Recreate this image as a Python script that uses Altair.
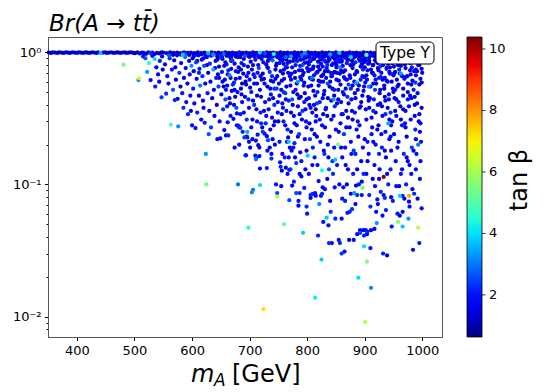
import altair as alt
import pandas as pd

# ---------------- tick labels ----------------
x_ticks = [400, 500, 600, 700, 800, 900, 1000]
y_ticks = [0.008, 0.009, 0.01, 0.02, 0.03, 0.04, 0.05, 0.06, 0.07, 0.08, 0.09,
           0.1, 0.2, 0.3, 0.4, 0.5, 0.6, 0.7, 0.8, 0.9, 1]
cbar_ticks = [2, 4, 6, 8, 10]

# ---------------- data (m_A, Br, tan beta) ----------------
band_line = [(351,0.995,1.1),(355,0.99,1.3),(358,1.0,1.0),(362,0.995,1.4),(366,0.99,1.2),(369,1.0,1.1),(373,0.995,1.3),(377,0.99,1.0),(381,1.0,1.2),(384,0.995,1.4),(388,0.99,1.1),(392,1.0,1.3),(396,0.995,1.0),(400,0.99,1.2),(403,1.0,1.4),(407,0.995,1.1),(411,0.99,1.3),(415,1.0,1.0),(418,0.995,1.2),(422,0.99,1.4),(426,1.0,1.1),(430,0.995,1.3),(434,0.99,1.0),(437,1.0,1.2),(441,0.99,3.6),(445,0.995,1.1),(449,1.0,1.3),(452,0.99,1.0),(456,0.995,1.2),(460,1.0,1.4),(464,0.99,1.1),(468,0.995,1.3),(471,1.0,1.0),(475,0.99,1.2),(479,0.995,1.4),(483,1.0,1.1),(486,0.99,1.3),(490,0.995,1.0),(494,1.0,1.2),(498,0.99,1.4),(501,0.985,1.1),(505,1.0,1.3),(509,0.98,1.0),(513,0.995,1.2),(516,0.99,1.4),(520,0.975,1.1),(524,1.0,1.3),(528,0.985,2.4),(531,0.995,1.2),(535,0.97,1.4),(539,0.99,1.1),(543,0.98,1.3),(547,1.0,1.0)]

band_a = [(550,.995,1.1),(556,.985,1.3),(562,1.0,1.0),(568,.99,1.4),(574,.995,1.2),(580,.985,1.1),(586,1.0,1.3),(592,.99,1.0),(598,.995,1.5),(604,.985,1.2),(610,1.0,1.1),(616,.99,1.3),(622,.995,1.0),(628,.985,3.6),(634,1.0,1.2),(640,.99,1.4),(646,.995,1.1),(652,.985,1.3),(658,1.0,1.0),(664,.99,1.2),(670,.995,1.4),(676,.985,1.1),(682,1.0,1.6),(688,.99,1.2),(694,.995,1.0),(700,.985,1.3),(706,1.0,1.1),(712,.99,1.4),(718,.995,3.9),(724,.985,1.2),(730,1.0,1.0),(736,.99,1.3),(742,.995,1.1),(748,.985,1.4),(754,1.0,1.2),(760,.99,1.0),(766,.995,1.7),(772,.985,1.1),(778,1.0,1.3),(784,.99,1.2),(790,.995,1.0),(796,.985,3.2),(802,1.0,1.1),(808,.99,1.3),(814,.995,1.4),(820,.985,1.0),(826,1.0,1.2),(832,.99,1.5),(838,.995,1.1),(844,.985,1.3),(850,1.0,1.0),(856,.99,3.7),(862,.995,1.2),(868,.985,1.1),(874,1.0,1.4),(880,.99,1.2),(886,.995,1.0),(892,.985,1.3),(898,1.0,1.1),(904,.99,1.8),(910,.995,1.2),(916,.985,1.0),(922,1.0,1.3),(928,.99,1.1),(934,.995,4.1),(940,.985,1.2),(946,1.0,1.4),(952,.99,1.0),(958,.995,1.2),(964,.985,1.6),(970,1.0,1.1),(976,.99,1.3),(982,.995,1.0),(988,.985,1.2),(994,1.0,1.4),(1000,.99,1.1)]

band_b = [(560,.965,1.2),(567,.955,1.0),(574,.97,1.4),(581,.96,1.1),(588,.965,2.6),(595,.955,1.2),(602,.97,1.3),(609,.96,1.0),(616,.965,1.4),(623,.955,1.1),(630,.97,1.0),(637,.96,3.3),(644,.965,1.2),(651,.955,1.1),(658,.97,1.3),(665,.96,1.0),(672,.965,1.5),(679,.955,1.1),(686,.97,1.0),(693,.96,1.3),(700,.965,1.1),(707,.955,1.8),(714,.97,1.2),(721,.96,1.0),(728,.965,1.4),(735,.955,1.1),(742,.97,4.4),(749,.96,1.2),(756,.965,1.3),(763,.955,1.0),(770,.97,1.4),(777,.96,1.1),(784,.965,1.0),(791,.955,2.7),(798,.97,1.2),(805,.96,1.1),(812,.965,1.3),(819,.955,1.0),(826,.97,1.5),(833,.96,1.1),(840,.965,3.5),(847,.955,1.0),(854,.97,1.3),(861,.96,1.1),(868,.965,1.6),(875,.955,1.2),(882,.97,1.0),(889,.96,1.4),(896,.965,1.1),(903,.955,5.2),(910,.97,1.1),(917,.96,1.3),(924,.965,1.0),(931,.955,1.7),(938,.97,1.2),(945,.96,1.0),(952,.965,1.4),(959,.955,1.1),(966,.97,3.0),(973,.96,1.1),(980,.965,1.3),(987,.955,1.0),(994,.97,1.2)]

band_c = [(644,.93,1.2),(652,.92,1.4),(660,.94,1.0),(668,.925,1.5),(676,.93,1.2),(684,.92,1.1),(692,.94,2.6),(700,.925,1.2),(708,.93,1.0),(716,.92,1.4),(724,.94,1.1),(732,.925,1.3),(740,.93,1.7),(748,.92,1.2),(756,.94,1.0),(764,.925,1.4),(772,.93,3.4),(780,.92,1.1),(788,.94,1.3),(796,.925,1.0),(804,.93,1.5),(812,.92,1.2),(820,.94,1.3),(828,.925,1.0),(836,.93,1.8),(844,.92,1.2),(852,.94,1.1),(860,.925,1.4),(868,.93,1.0),(876,.92,4.0),(884,.94,1.2),(892,.925,1.3),(900,.93,1.1),(908,.92,1.6),(916,.94,1.2),(924,.925,1.0),(932,.93,1.4),(940,.92,1.2),(948,.94,2.9),(956,.925,1.1),(964,.93,1.3),(972,.92,1.0),(980,.94,1.4),(988,.925,1.2),(996,.93,1.3)]

band_d = [(752,.90,1.1),(758,.96,1.3),(764,.88,1.0),(770,.93,1.2),(776,.86,1.2),(782,.91,1.0),(788,.96,1.4),(794,.89,1.1),(800,.94,1.3),(806,.86,1.0),(812,.91,1.2),(818,.97,1.3),(824,.88,1.1),(830,.93,1.0),(836,.85,1.3),(842,.96,1.1),(848,.89,1.4),(854,.94,1.0),(860,.87,1.2),(866,.91,1.1),(872,.96,1.3),(878,.86,1.0),(884,.93,1.4),(890,.89,1.1),(896,.95,1.2),(902,.87,1.0),(908,.92,1.3),(914,.96,1.1),(920,.85,1.2),(926,.90,1.0),(932,.95,1.4),(938,.88,1.1),(944,.93,1.3),(950,.97,1.0),(956,.87,1.2),(962,.92,1.1),(968,.96,1.4),(974,.89,1.0),(980,.94,1.3),(986,.86,1.1),(992,.91,1.2),(998,.88,1.0)]

s_500_550 = [(481,0.806,5.3),(508,0.635,6.3),(507,0.617,3.0),(522,0.71,3.4),(525,0.83,4.6),(535,0.89,4.0),(528,0.617,1.8),(515,0.93,2.0),(519,0.90,2.6),(531,0.94,1.6),(538,0.77,1.5),(541,0.68,1.9),(544,0.86,2.2),(547,0.456,2.4),(548,0.93,1.4),(536,0.55,2.1),(543,0.60,1.7),(549,0.74,1.3)]

s_550_600 = [(555,0.486,2.3),(553,0.81,1.5),(557,0.66,2.0),(559,0.58,1.4),(561,0.90,2.2),(563,0.283,5.0),(565,0.74,1.8),(567,0.52,2.6),(569,0.87,1.3),(570,0.435,2.1),(572,0.62,1.6),(574,0.95,1.9),(575,0.445,1.5),(576,0.275,3.3),(578,0.70,2.4),(580,0.55,1.2),(581,0.83,1.7),(583,0.49,2.0),(585,0.38,2.3),(586,0.64,1.4),(588,0.92,2.9),(589,0.76,1.6),(590,0.42,1.9),(592,0.58,1.3),(593,0.34,2.2),(595,0.86,1.5),(596,0.68,2.0),(597,0.47,1.7),(599,0.79,3.2),(600,0.28,1.8),(598,0.36,1.5),(584,0.96,3.8),(560,0.95,2.7),(571,0.77,1.4)]

s_600_650 = [(601,0.90,1.6),(602,0.53,2.1),(603,0.72,1.4),(604,0.41,1.9),(606,0.267,1.7),(607,0.84,2.4),(608,0.63,1.5),(609,0.35,2.2),(611,0.95,1.8),(612,0.47,1.3),(613,0.75,2.0),(614,0.56,3.0),(616,0.31,1.6),(617,0.88,1.4),(618,0.66,2.3),(619,0.43,1.8),(620,0.38,1.5),(621,0.79,2.6),(622,0.293,2.0),(623,0.58,1.7),(624,0.17,3.3),(625,0.10,5.3),(626,0.92,1.5),(627,0.49,2.1),(628,0.70,1.3),(630,0.36,1.9),(631,0.82,2.2),(632,0.60,1.6),(633,0.27,2.4),(635,0.45,1.4),(636,0.96,2.0),(637,0.74,3.5),(638,0.52,1.8),(639,0.33,1.5),(641,0.86,1.7),(642,0.64,2.1),(643,0.40,1.3),(644,0.22,2.0),(646,0.55,2.5),(647,0.78,1.4),(648,0.30,1.9),(649,0.223,1.6),(650,0.91,2.2),(645,0.68,1.2),(629,0.24,2.7)]

s_650_700 = [(651,0.48,1.5),(652,0.71,2.0),(653,0.89,1.3),(654,0.37,2.3),(656,0.258,1.8),(657,0.62,1.6),(658,0.44,2.6),(659,0.235,1.4),(660,0.81,2.1),(661,0.56,1.7),(662,0.295,1.9),(663,0.235,2.2),(664,0.94,1.5),(665,0.67,3.1),(666,0.41,1.3),(667,0.33,2.0),(668,0.75,1.8),(669,0.51,1.6),(670,0.87,2.4),(672,0.314,1.5),(673,0.59,2.2),(674,0.19,1.7),(675,0.46,1.4),(676,0.72,2.0),(677,0.38,2.6),(678,0.345,1.9),(678,0.28,1.5),(679,0.92,1.3),(680,0.10,3.0),(681,0.277,2.1),(682,0.20,1.8),(682,0.27,1.4),(683,0.64,1.7),(684,0.268,2.3),(685,0.53,1.5),(686,0.83,2.0),(687,0.42,1.6),(688,0.25,2.2),(689,0.69,1.3),(690,0.35,1.9),(691,0.227,2.4),(692,0.97,1.6),(693,0.166,1.8),(694,0.166,2.1),(694,0.57,1.4),(695,0.23,1.7),(696,0.25,3.5),(696,0.227,2.0),(697,0.78,1.5),(698,0.047,4.4),(698,0.44,2.2),(699,0.21,1.6),(700,0.62,1.9),(655,0.97,2.8),(671,0.98,1.9)]

s_700_750 = [(701,0.19,1.7),(702,0.85,1.4),(703,0.50,2.0),(704,0.087,3.2),(705,0.31,1.5),(706,0.091,3.0),(707,0.68,1.8),(708,0.40,2.3),(709,0.93,1.6),(710,0.165,1.9),(711,0.215,1.4),(711,0.155,3.0),(712,0.16,2.2),(713,0.58,1.7),(714,0.238,2.0),(715,0.198,1.5),(716,0.76,2.5),(717,0.164,1.8),(718,0.099,4.0),(718,0.132,1.6),(719,0.35,2.1),(720,0.46,1.3),(721,0.89,1.9),(722,0.27,1.6),(723,0.25,2.4),(724,0.0114,7.2),(725,0.63,1.4),(726,0.242,2.0),(727,0.42,1.7),(728,0.29,2.2),(729,0.81,1.5),(730,0.232,1.8),(730,0.133,2.1),(731,0.55,1.3),(732,0.216,2.6),(733,0.37,1.9),(734,0.96,1.6),(735,0.71,2.3),(736,0.26,1.4),(737,0.48,2.0),(738,0.17,1.7),(738,0.157,2.3),(739,0.32,1.5),(740,0.87,2.8),(741,0.60,1.8),(742,0.28,1.6),(743,0.40,2.2),(744,0.20,1.9),(745,0.74,1.4),(746,0.10,2.0),(747,0.53,2.4),(748,0.086,2.5),(748,0.081,6.0),(749,0.35,1.7),(750,0.92,1.5),(727,0.98,2.6),(742,0.97,1.8),(713,0.30,1.9),(735,0.19,1.3)]

s_750_800 = [(751,0.58,1.6),(752,0.83,2.0),(753,0.147,1.7),(754,0.136,2.2),(755,0.097,1.8),(756,0.127,1.5),(757,0.41,1.9),(758,0.69,1.4),(759,0.30,2.1),(760,0.05,5.2),(761,0.90,1.7),(762,0.49,2.4),(763,0.134,1.6),(764,0.36,1.9),(765,0.77,1.3),(766,0.26,2.2),(767,0.227,1.8),(768,0.16,2.0),(768,0.21,3.8),(769,0.129,1.7),(769,0.076,2.6),(770,0.19,1.5),(771,0.13,2.3),(772,0.62,1.6),(773,0.18,1.9),(774,0.44,2.7),(775,0.94,1.4),(776,0.19,2.0),(777,0.33,1.7),(778,0.205,2.2),(779,0.71,1.5),(780,0.52,1.9),(781,0.086,2.5),(782,0.28,1.6),(783,0.86,2.1),(784,0.39,1.4),(785,0.075,2.0),(785,0.069,1.8),(786,0.24,2.4),(787,0.086,2.2),(788,0.65,1.7),(789,0.46,1.3),(790,0.15,2.0),(791,0.31,1.8),(792,0.80,2.6),(793,0.043,3.8),(794,0.56,1.5),(795,0.094,2.1),(796,0.22,1.9),(797,0.37,1.6),(798,0.96,2.3),(799,0.068,2.3),(800,0.06,2.0),(799,0.27,1.7),(790,0.115,1.5),(777,0.105,2.1),(763,0.92,2.9),(756,0.34,1.5),(784,0.60,3.4),(795,0.42,2.0),(772,0.25,1.4),(759,0.50,2.3),(766,0.12,1.9),(752,0.21,2.0),(788,0.175,1.6),(781,0.145,2.4),(797,0.13,1.8),(774,0.098,1.7),(761,0.16,2.2)]

s_800_850 = [(801,0.165,3.8),(802,0.72,1.6),(803,0.45,2.0),(804,0.29,1.4),(805,0.88,2.2),(806,0.083,2.0),(806,0.079,1.7),(807,0.56,1.5),(808,0.084,2.3),(809,0.35,1.8),(810,0.19,2.1),(811,0.085,1.6),(812,0.67,1.9),(813,0.24,1.3),(814,0.086,2.0),(814,0.0139,4.2),(815,0.082,1.8),(816,0.93,1.5),(817,0.41,2.4),(818,0.14,1.7),(819,0.041,2.2),(820,0.61,1.4),(821,0.071,3.2),(822,0.31,2.0),(823,0.21,1.6),(824,0.082,1.9),(825,0.027,3.8),(826,0.085,2.1),(826,0.128,4.5),(827,0.78,1.7),(828,0.052,2.0),(829,0.48,1.5),(830,0.17,2.3),(831,0.27,1.8),(832,0.85,1.4),(833,0.38,2.0),(834,0.056,3.8),(835,0.11,1.6),(836,0.58,2.5),(837,0.049,1.9),(838,0.036,2.2),(839,0.23,1.5),(840,0.075,1.8),(841,0.70,2.1),(842,0.43,1.3),(843,0.036,1.9),(844,0.15,2.4),(845,0.96,1.7),(846,0.33,1.5),(847,0.52,2.0),(848,0.095,1.8),(849,0.055,2.2),(849,0.154,3.8),(850,0.26,1.6),(803,0.12,1.9),(808,0.64,3.0),(812,0.40,1.6),(818,0.50,2.2),(823,0.90,2.0),(828,0.34,1.4),(833,0.64,1.8),(838,0.13,2.6),(843,0.80,1.5),(847,0.19,1.9),(805,0.22,2.4),(815,0.30,1.8),(820,0.106,1.5),(831,0.092,2.0),(836,0.20,1.7),(841,0.062,2.3),(846,0.44,3.3),(810,0.75,1.9),(825,0.66,1.6),(835,0.80,2.2),(848,0.71,1.4),(813,0.16,2.1),(829,0.18,1.5),(806,0.38,1.7)]

s_850_900 = [(851,0.62,1.8),(852,0.41,1.5),(853,0.87,2.1),(854,0.20,5.5),(855,0.038,2.0),(856,0.10,1.7),(857,0.036,2.2),(858,0.29,1.6),(859,0.73,1.4),(860,0.055,1.9),(860,0.030,2.3),(861,0.16,1.8),(862,0.50,2.0),(863,0.095,1.5),(864,0.24,2.4),(865,0.031,1.7),(866,0.075,2.1),(867,0.93,1.6),(868,0.36,1.9),(869,0.10,1.4),(870,0.061,2.0),(871,0.13,1.8),(872,0.57,2.5),(873,0.038,1.6),(874,0.062,2.2),(875,0.80,1.5),(876,0.21,1.9),(877,0.44,1.7),(878,0.065,2.3),(879,0.31,1.4),(880,0.12,2.0),(881,0.038,1.8),(882,0.086,3.3),(883,0.68,1.6),(884,0.17,2.1),(885,0.098,1.5),(886,0.26,1.9),(887,0.083,2.2),(887,0.042,1.7),(888,0.52,1.4),(889,0.0197,4.0),(890,0.10,2.0),(891,0.89,1.6),(892,0.045,1.9),(892,0.043,2.4),(893,0.39,1.5),(894,0.15,1.8),(895,0.083,2.0),(895,0.105,1.6),(896,0.094,5.3),(897,0.74,2.2),(898,0.045,1.7),(899,0.041,2.1),(899,0.034,4.0),(900,0.22,1.5),(852,0.14,2.0),(857,0.77,3.1),(862,0.34,1.7),(866,0.19,1.5),(870,0.46,2.3),(874,0.27,1.6),(878,0.95,1.9),(883,0.35,2.0),(886,0.59,3.6),(891,0.28,1.7),(896,0.47,1.5),(898,0.12,2.2),(854,0.52,1.6),(864,0.65,1.9),(876,0.085,1.7),(881,0.18,2.4),(889,0.23,1.6),(855,0.25,1.8),(869,0.83,2.0),(879,0.56,1.5),(893,0.62,2.1),(899,0.84,1.6),(861,0.078,2.0),(884,0.071,1.8)]

s_900_950 = [(901,0.0091,6.2),(901,0.59,1.7),(902,0.045,2.0),(903,0.31,1.5),(904,0.026,5.5),(904,0.042,1.8),(905,0.044,2.2),(906,0.82,1.6),(907,0.17,1.9),(908,0.083,2.1),(909,0.45,1.4),(910,0.033,1.8),(910,0.068,2.3),(911,0.045,1.6),(911,0.0165,3.2),(912,0.24,2.0),(913,0.70,1.5),(914,0.11,1.8),(915,0.36,2.2),(916,0.94,1.7),(917,0.14,1.5),(918,0.52,2.4),(919,0.20,1.9),(920,0.062,1.6),(921,0.051,3.3),(922,0.077,2.0),(923,0.071,1.7),(924,0.28,1.5),(925,0.64,2.1),(926,0.13,1.8),(927,0.41,1.6),(928,0.088,2.2),(929,0.86,1.4),(930,0.19,2.0),(931,0.33,1.7),(932,0.030,2.1),(933,0.114,10.3),(933,0.083,1.9),(934,0.56,1.5),(935,0.079,2.3),(936,0.25,1.8),(937,0.16,1.6),(938,0.75,2.0),(939,0.029,1.8),(940,0.38,1.5),(941,0.10,2.2),(942,0.48,1.7),(943,0.22,1.9),(944,0.91,1.5),(945,0.13,2.1),(946,0.080,1.8),(947,0.048,2.0),(948,0.30,1.6),(949,0.075,2.2),(950,0.67,1.9),(903,0.12,1.6),(907,0.55,3.2),(913,0.27,1.8),(918,0.097,2.0),(923,0.40,1.5),(927,0.78,2.3),(931,0.058,1.9),(936,0.43,1.6),(941,0.29,3.5),(946,0.18,1.7),(949,0.53,1.5),(905,0.21,2.0),(915,0.80,1.6),(925,0.17,2.2),(935,0.64,1.8),(945,0.35,2.4),(908,0.38,1.5),(919,0.62,1.9),(929,0.24,1.7),(939,0.12,1.6),(909,0.96,2.0),(921,0.89,1.8),(943,0.71,1.6),(917,0.046,1.9),(937,0.064,2.1)]

s_950_1000 = [(951,0.24,1.8),(952,0.45,1.5),(953,0.87,2.1),(954,0.15,1.7),(955,0.33,1.9),(956,0.62,1.4),(957,0.060,2.0),(958,0.052,5.5),(959,0.21,1.6),(960,0.74,2.2),(961,0.058,1.8),(961,0.082,3.9),(962,0.39,1.5),(963,0.12,2.0),(964,0.95,1.7),(965,0.28,1.9),(966,0.062,1.6),(966,0.048,3.8),(966,0.082,2.1),(967,0.53,1.5),(968,0.17,2.3),(969,0.078,1.7),(970,0.81,1.9),(971,0.36,1.6),(972,0.10,2.2),(973,0.23,1.5),(974,0.66,1.8),(975,0.44,2.0),(976,0.055,3.3),(977,0.082,7.8),(977,0.074,1.9),(978,0.14,1.6),(979,0.90,2.1),(980,0.31,1.7),(981,0.57,1.5),(982,0.19,2.4),(983,0.092,1.8),(984,0.032,2.0),(985,0.18,1.6),(986,0.72,1.9),(987,0.40,1.5),(988,0.26,2.2),(989,0.13,1.7),(990,0.17,2.0),(991,0.84,1.6),(992,0.49,1.8),(993,0.047,6.3),(994,0.30,1.5),(995,0.036,2.1),(996,0.11,1.9),(997,0.63,1.6),(998,0.21,2.0),(999,0.38,1.7),(1000,0.93,1.5),(955,0.097,1.9),(963,0.69,3.4),(970,0.29,1.8),(979,0.47,1.6),(988,0.59,2.3),(996,0.25,1.7),(953,0.52,2.0),(975,0.15,1.5),(986,0.085,2.2),(999,0.066,1.8),(958,0.80,1.6),(982,0.77,2.0),(993,0.20,3.0),(971,0.96,1.9)]

upper_600_700 = [(603,0.93,1.5),(609,0.86,1.3),(614,0.97,1.8),(620,0.90,1.6),(626,0.80,1.4),(633,0.94,2.0),(640,0.76,1.5),(644,0.88,1.3),(652,0.95,1.7),(658,0.84,1.5),(663,0.73,2.2),(667,0.91,1.4),(674,0.82,1.6),(681,0.95,1.9),(685,0.74,1.3),(690,0.89,1.5),(695,0.66,2.0),(699,0.93,1.6),(612,0.70,2.1),(647,0.64,1.7)]

upper_700_800 = [(703,0.95,1.6),(706,0.80,1.4),(710,0.88,2.0),(714,0.70,1.5),(717,0.92,1.7),(721,0.62,1.3),(724,0.84,1.9),(728,0.94,1.5),(732,0.76,1.8),(736,0.89,1.4),(739,0.66,2.2),(743,0.95,1.6),(747,0.82,1.3),(751,0.93,1.9),(754,0.72,1.5),(757,0.87,1.7),(760,0.63,1.4),(763,0.78,2.1),(766,0.94,1.6),(770,0.85,1.3),(773,0.69,1.8),(777,0.91,1.5),(780,0.80,2.0),(783,0.95,1.4),(786,0.73,1.7),(789,0.88,1.6),(792,0.67,1.3),(795,0.83,1.9),(798,0.91,1.5),(800,0.76,1.8)]

upper_800_900 = [(802,0.93,1.4),(805,0.64,1.9),(808,0.89,1.6),(811,0.78,1.3),(813,0.95,1.7),(816,0.70,2.0),(819,0.85,1.5),(822,0.74,1.8),(825,0.92,1.4),(828,0.60,1.6),(830,0.87,2.1),(833,0.95,1.5),(836,0.72,1.3),(839,0.88,1.7),(842,0.66,1.9),(845,0.82,1.5),(848,0.93,1.6),(851,0.77,1.4),(854,0.90,2.0),(857,0.69,1.5),(860,0.85,1.7),(863,0.94,1.3),(866,0.73,1.9),(869,0.62,1.6),(872,0.88,1.5),(875,0.95,1.8),(878,0.79,1.4),(881,0.91,1.6),(884,0.84,2.2),(887,0.71,1.5),(890,0.94,1.3),(893,0.78,1.7),(896,0.88,1.5),(899,0.65,1.9)]

upper_900_1000 = [(902,0.91,1.5),(905,0.73,1.7),(908,0.86,1.4),(911,0.95,1.8),(914,0.80,1.5),(917,0.67,2.0),(920,0.90,1.6),(923,0.76,1.3),(926,0.93,1.7),(929,0.70,1.5),(932,0.85,1.9),(935,0.94,1.4),(938,0.61,1.6),(941,0.82,1.8),(944,0.77,1.5),(947,0.91,1.3),(950,0.86,1.7),(953,0.71,1.5),(956,0.94,2.0),(959,0.83,1.4),(962,0.89,1.6),(965,0.66,1.8),(968,0.92,1.5),(971,0.76,1.3),(974,0.87,1.7),(977,0.95,1.5),(980,0.68,1.9),(983,0.84,1.4),(986,0.93,1.6),(989,0.74,1.5),(992,0.89,1.8),(995,0.80,1.4),(998,0.95,1.6),(1000,0.70,1.7)]

extra_650_750 = [(653,0.60,1.7),(656,0.79,1.4),(659,0.52,2.0),(662,0.68,1.5),(665,0.45,1.8),(668,0.86,1.3),(671,0.57,2.2),(673,0.40,1.6),(676,0.63,1.4),(679,0.50,1.9),(681,0.77,1.5),(684,0.34,2.1),(687,0.58,1.3),(690,0.80,1.7),(692,0.46,1.5),(695,0.31,2.4),(698,0.70,1.6),(701,0.54,1.4),(703,0.27,1.9),(706,0.43,1.5),(709,0.65,2.0),(712,0.37,1.3),(715,0.80,1.7),(718,0.52,1.5),(720,0.29,2.2),(723,0.69,1.4),(726,0.58,1.8),(729,0.33,1.6),(732,0.86,1.3),(734,0.44,1.9),(737,0.61,1.5),(740,0.22,1.7),(743,0.53,2.3),(746,0.79,1.4),(749,0.42,1.6),(705,0.22,1.8),(717,0.19,1.5),(731,0.18,2.0),(744,0.30,1.4),(748,0.66,1.8)]

extra_750_850 = [(752,0.47,1.5),(754,0.88,1.7),(756,0.61,1.3),(758,0.38,2.0),(760,0.74,1.5),(762,0.28,1.8),(764,0.55,1.4),(766,0.83,1.6),(768,0.43,2.2),(770,0.66,1.5),(772,0.35,1.3),(774,0.77,1.9),(776,0.50,1.6),(778,0.29,1.4),(780,0.87,2.1),(782,0.58,1.5),(784,0.23,1.7),(786,0.45,1.3),(788,0.79,1.8),(790,0.62,1.5),(792,0.36,2.3),(794,0.70,1.4),(796,0.49,1.6),(798,0.30,1.9),(800,0.84,1.5),(802,0.55,1.3),(804,0.40,1.8),(806,0.74,1.6),(808,0.26,2.0),(810,0.62,1.4),(812,0.89,1.7),(814,0.47,1.5),(816,0.33,1.9),(818,0.71,1.3),(820,0.56,1.6),(822,0.42,2.2),(824,0.82,1.5),(826,0.28,1.8),(828,0.68,1.4),(830,0.51,1.6),(832,0.37,1.3),(834,0.76,2.0),(836,0.45,1.5),(838,0.89,1.7),(840,0.60,1.4),(842,0.31,1.9),(844,0.53,1.6),(846,0.70,1.3),(848,0.39,2.1),(850,0.84,1.5),(757,0.17,1.6),(765,0.21,2.0),(779,0.16,1.5),(787,0.12,1.8),(799,0.18,1.4),(809,0.14,1.9),(817,0.23,1.5),(827,0.095,1.7),(837,0.16,1.4),(845,0.12,2.2)]

extra_850_950 = [(852,0.70,1.4),(854,0.44,1.8),(856,0.85,1.5),(858,0.57,1.3),(860,0.34,2.0),(862,0.79,1.6),(864,0.48,1.4),(866,0.63,1.9),(868,0.27,1.5),(870,0.88,1.7),(872,0.41,1.3),(874,0.67,1.6),(876,0.53,2.2),(878,0.36,1.5),(880,0.81,1.4),(882,0.60,1.8),(884,0.45,1.6),(886,0.72,1.3),(888,0.30,1.9),(890,0.56,1.5),(892,0.86,1.7),(894,0.42,1.4),(896,0.66,2.0),(898,0.51,1.5),(900,0.77,1.3),(902,0.37,1.8),(904,0.62,1.6),(906,0.46,1.4),(908,0.83,1.9),(910,0.55,1.5),(912,0.32,1.7),(914,0.70,1.3),(916,0.44,2.1),(918,0.87,1.5),(920,0.58,1.4),(922,0.26,1.8),(924,0.73,1.6),(926,0.49,1.3),(928,0.65,1.9),(930,0.39,1.5),(932,0.80,1.7),(934,0.53,1.4),(936,0.34,2.2),(938,0.90,1.5),(940,0.60,1.3),(942,0.44,1.8),(944,0.69,1.6),(946,0.28,1.4),(948,0.83,1.9),(950,0.50,1.5),(859,0.19,1.7),(867,0.14,1.5),(877,0.17,2.0),(887,0.13,1.4),(897,0.19,1.8),(905,0.15,1.5),(915,0.21,1.7),(925,0.11,1.6),(935,0.18,1.4),(945,0.23,2.0)]

extra_950_1000 = [(951,0.78,1.5),(953,0.36,1.8),(955,0.88,1.4),(957,0.55,1.6),(959,0.42,2.0),(961,0.69,1.5),(963,0.31,1.3),(965,0.84,1.7),(967,0.47,1.5),(969,0.63,1.9),(971,0.27,1.4),(973,0.91,1.6),(975,0.58,1.3),(977,0.39,1.8),(979,0.73,1.5),(981,0.45,1.7),(983,0.86,1.4),(985,0.52,2.1),(987,0.33,1.5),(989,0.67,1.6),(991,0.41,1.3),(993,0.80,1.8),(995,0.57,1.5),(997,0.29,1.7),(999,0.75,1.4),(957,0.19,1.6),(965,0.13,1.9),(973,0.16,1.5),(981,0.12,1.7),(989,0.22,1.4),(997,0.15,1.8),(960,0.097,1.6),(978,0.068,1.9),(992,0.078,1.5),(968,0.28,2.2)]

extra_mid = [(655,0.55,1.4),(661,0.39,1.6),(667,0.64,1.2),(674,0.52,1.8),(680,0.71,1.3),(686,0.48,1.5),(693,0.60,1.2),(699,0.38,1.7),(704,0.74,1.3),(708,0.58,1.5),(713,0.47,1.2),(719,0.66,1.6),(725,0.36,1.4),(731,0.77,1.2),(736,0.53,1.7),(741,0.45,1.3),(745,0.63,1.5),(750,0.30,1.2),(755,0.52,1.6),(759,0.82,1.3),(763,0.44,1.4),(767,0.70,1.2),(771,0.56,1.7),(775,0.40,1.3),(779,0.64,1.5),(783,0.48,1.2),(787,0.34,1.6),(791,0.73,1.3),(795,0.59,1.4),(799,0.44,1.2),(803,0.81,1.5),(807,0.63,1.3),(811,0.51,1.6),(815,0.37,1.2),(819,0.78,1.4),(823,0.60,1.3),(827,0.45,1.7),(831,0.72,1.2),(835,0.33,1.5),(839,0.55,1.3),(843,0.66,1.4),(847,0.47,1.2),(851,0.80,1.6),(855,0.61,1.3),(859,0.42,1.5),(863,0.71,1.2),(867,0.53,1.4),(871,0.32,1.3),(875,0.64,1.6),(879,0.76,1.2),(883,0.49,1.5),(887,0.58,1.3),(891,0.38,1.4),(895,0.81,1.2),(899,0.55,1.6),(903,0.67,1.3),(907,0.43,1.5),(911,0.74,1.2),(915,0.58,1.4),(919,0.35,1.3),(923,0.83,1.6),(927,0.52,1.2),(931,0.62,1.5),(935,0.46,1.3),(939,0.77,1.4),(943,0.31,1.2),(947,0.60,1.6),(951,0.69,1.3),(955,0.44,1.5),(959,0.57,1.2),(963,0.79,1.4),(967,0.37,1.3),(971,0.65,1.6),(975,0.50,1.2),(979,0.83,1.5),(983,0.61,1.3),(987,0.46,1.4),(991,0.72,1.2),(995,0.34,1.6),(999,0.59,1.3)]

groups = [band_line, band_a, band_b, band_c, band_d, s_500_550, s_550_600, s_600_650,
          s_650_700, s_700_750, s_750_800, s_800_850, s_850_900, s_900_950,
          s_950_1000, upper_600_700, upper_700_800, upper_800_900, upper_900_1000,
          extra_650_750, extra_750_850, extra_850_950, extra_950_1000, extra_mid]
rows = [p for g in groups for p in g]
df = pd.DataFrame(rows, columns=["m", "br", "tb"])

# ---------------- jet colormap ----------------
VMIN, VMAX = 0.63, 10.39
def _seg(pts, t):
    for (a, va), (b, vb) in zip(pts, pts[1:]):
        if a <= t <= b:
            return va + (vb - va) * (t - a) / (b - a) if b > a else vb
    return pts[-1][1]
def jet(t):
    r = _seg([(0, 0), (0.35, 0), (0.66, 1), (0.89, 1), (1, 0.5)], t)
    g = _seg([(0, 0), (0.125, 0), (0.375, 1), (0.64, 1), (0.91, 0), (1, 0)], t)
    b = _seg([(0, 0.5), (0.11, 1), (0.34, 1), (0.65, 0), (1, 0)], t)
    return "#%02x%02x%02x" % (round(r * 255), round(g * 255), round(b * 255))
stops = [0, 0.11, 0.125, 0.34, 0.35, 0.375, 0.64, 0.65, 0.66, 0.89, 0.91, 1]
jet_domain = [VMIN + s * (VMAX - VMIN) for s in stops]
jet_range = [jet(s) for s in stops]

FONT = "DejaVu Sans"
W, H = 394, 300

points = alt.Chart(df).mark_circle(size=18, opacity=1).encode(
    x=alt.X("m:Q", scale=alt.Scale(domain=[349.7, 1034.4], nice=False, zero=False),
            axis=alt.Axis(values=x_ticks, format="d", title=None, grid=False, tickSize=3.5,
                          labelFontSize=13, labelFont=FONT, labelColor="black",
                          labelPadding=3.5, tickColor="black", domainColor="#555")),
    y=alt.Y("br:Q", scale=alt.Scale(type="log", domain=[0.0070, 1.306], nice=False),
            axis=alt.Axis(values=y_ticks, title=None, grid=False,
                          labelExpr="datum.value == 1 ? '10⁰' : datum.value == 0.1 ? '10⁻¹' : datum.value == 0.01 ? '10⁻²' : ''",
                          tickSize={"condition": {"test": "indexof([1, 0.1, 0.01], datum.value) >= 0", "value": 3.5}, "value": 2},
                          labelFontSize=13, labelFont=FONT, labelColor="black",
                          labelPadding=3.5, labelOverlap=False, tickColor="black",
                          domainColor="#555")),
    color=alt.Color("tb:Q", scale=alt.Scale(domain=jet_domain, range=jet_range, interpolate="rgb"),
                    legend=alt.Legend(title=None, orient="none", legendX=419, legendY=0,
                                      direction="vertical", gradientLength=300,
                                      gradientThickness=15, values=cbar_ticks,
                                      labelFont=FONT, labelFontSize=13, labelColor="black",
                                      labelOffset=7, gradientStrokeColor="black",
                                      gradientStrokeWidth=0.8, padding=0, labelOverlap=False)),
    order=alt.Order("tb:Q", sort="ascending"),
)

cb_ticks = alt.Chart(pd.DataFrame({"v": cbar_ticks})).mark_rule(color="black", strokeWidth=0.8).encode(
    y=alt.Y("v:Q", scale=alt.Scale(domain=[VMIN, VMAX], nice=False, zero=False), axis=None),
    x=alt.value(434), x2=alt.value(437.5),
)

one = pd.DataFrame({"k": [0]})
def txt(text, x, y, size, style="normal", angle=0, align="left", baseline="alphabetic"):
    return alt.Chart(one).mark_text(text=text, fontSize=size, font=FONT, fontStyle=style,
                                    align=align, baseline=baseline, angle=angle,
                                    color="black").encode(x=alt.value(x), y=alt.value(y))

box = alt.Chart(one).mark_rect(fill="white", stroke="black", strokeWidth=1, cornerRadius=4).encode(
    x=alt.value(328), x2=alt.value(386), y=alt.value(5), y2=alt.value(27))

layers = [
    points, cb_ticks, box,
    txt("Type Y", 357, 20.5, 15.5, align="center"),
    txt("Br(A → tt\u0304)", 1, -6, 23, style="italic"),
    txt("m", 143, 345, 24, style="italic"),
    txt("A", 166, 349, 17, style="italic"),
    txt("[GeV]", 184, 345, 24),
    txt("tan β", 472, 143, 24, angle=270, align="center", baseline="middle"),
]

chart = alt.layer(*layers).resolve_scale(y="independent").properties(
    width=W, height=H,
    padding={"left": 40, "top": 29, "right": 106, "bottom": 55},
    autosize=alt.AutoSizeParams(type="none"),
).configure_view(stroke="#555", strokeWidth=1)

chart.save("out.html", embed_options={"renderer": "svg", "actions": False})
